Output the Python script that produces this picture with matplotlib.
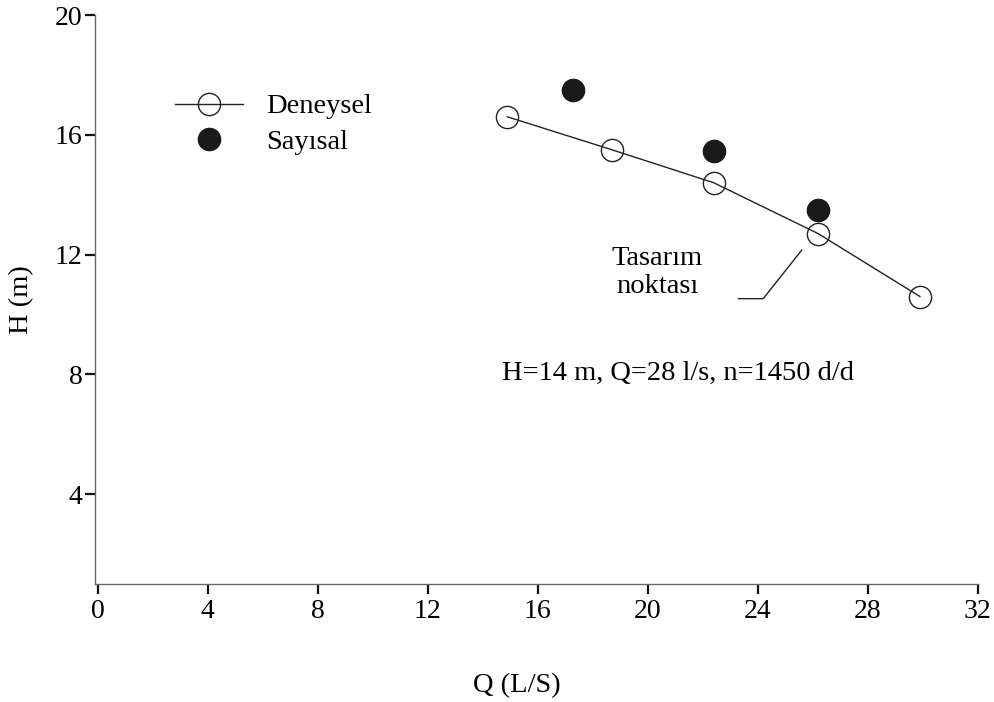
import matplotlib
matplotlib.use("Agg")
import matplotlib.pyplot as plt
from matplotlib.lines import Line2D

plt.rcParams['font.family'] = ['Liberation Serif', 'DejaVu Serif']

q_den = [14.9, 18.7, 22.4, 26.2, 29.9]
h_den = [16.6, 15.5, 14.4, 12.7, 10.6]
q_say = [17.3, 22.4, 26.2]
h_say = [17.5, 15.45, 13.5]
xticks = [0, 4, 8, 12, 16, 20, 24, 28, 32]
yticks = [4, 8, 12, 16, 20]

fig = plt.figure(figsize=(9.94, 7.02), dpi=100)
ax = fig.add_axes([0.0956, 0.168, 0.888, 0.8106])

ax.plot(q_den, h_den, color='#222222', lw=1.0, zorder=2)
ax.plot(q_den, h_den, ls='none', marker='o', ms=16, mfc='none', mec='#222222', mew=1.0, zorder=3)
ax.plot(q_say, h_say, ls='none', marker='o', ms=16, mfc='#1a1a1a', mec='#1a1a1a', zorder=3)

ax.set_xlim(-0.1, 32)
ax.set_ylim(1, 20)
ax.set_xticks(xticks)
ax.set_yticks(yticks)
ax.tick_params(axis='both', direction='out', length=7, width=1.6, color='#111111',
               labelsize=20, pad=2)
ax.tick_params(axis='x', pad=4)
for s in ['top', 'right']:
    ax.spines[s].set_visible(False)
for s in ['left', 'bottom']:
    ax.spines[s].set_color('#666666')
    ax.spines[s].set_linewidth(1.0)

fig.text(0.52, 0.024, 'Q (L/S)', ha='center', va='center', fontsize=20.5)
fig.text(0.022, 0.573, 'H (m)', ha='center', va='center', rotation=90, fontsize=20.5)

h1 = Line2D([], [], color='#222222', lw=1.0, marker='o', ms=16, mfc='none', mec='#222222', mew=1.0)
h2 = Line2D([], [], ls='none', marker='o', ms=16, mfc='#1a1a1a', mec='#1a1a1a')
ax.legend([h1, h2], ['Deneysel', 'Sayısal'], loc='upper left', bbox_to_anchor=(0.0775, 0.882),
          frameon=False, fontsize=20.5, handlelength=2.4, handletextpad=0.8, labelspacing=0.32,
          borderaxespad=0)

ax.text(20.35, 11.4, 'Tasarım\nnoktası', ha='center', va='center', fontsize=20.5, linespacing=1.12)
ax.plot([23.3, 24.2, 25.6], [10.53, 10.53, 12.15], color='#222222', lw=1.0)
ax.text(14.7, 8.05, 'H=14 m, Q=28 l/s, n=1450 d/d', ha='left', va='center', fontsize=20.5)

fig.savefig('out.png', dpi=100)
